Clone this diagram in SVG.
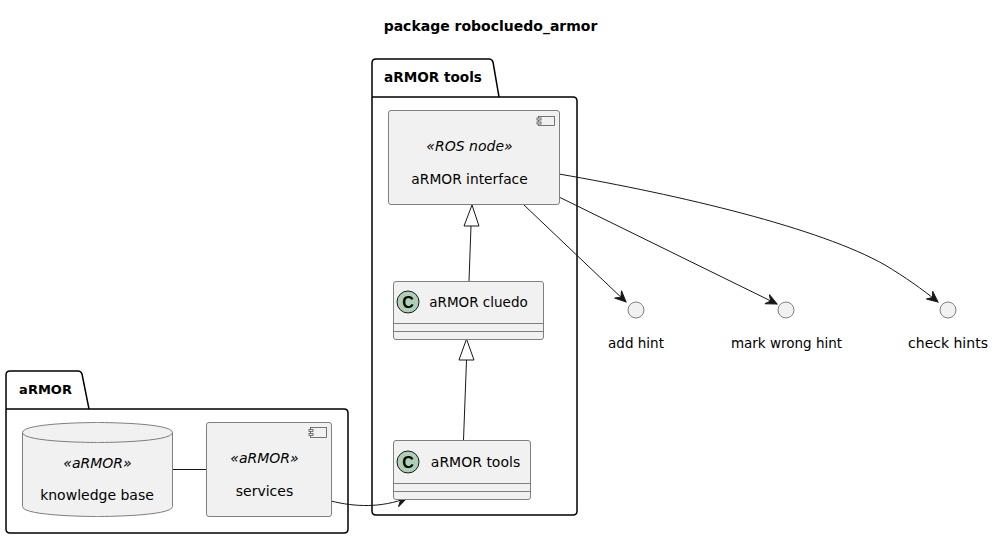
<svg xmlns="http://www.w3.org/2000/svg" width="994" height="539" viewBox="0 0 994 539">
<style>
text{font-family:"DejaVu Sans",sans-serif;font-size:14px;fill:#000;text-anchor:middle}
.b{font-weight:bold}
.i{font-style:italic}
.c{font-family:"Liberation Sans",sans-serif;font-weight:bold;font-size:16px}
.pkg{fill:none;stroke:#000;stroke-width:1.5}
.n{fill:#F1F1F1;stroke:#7f7f7f;stroke-width:1}
.ic{fill:#F1F1F1;stroke:#555;stroke-width:.8}
.l{fill:none;stroke:#181818;stroke-width:1}
.arr{fill:#181818;stroke:#181818;stroke-width:1}
.tri{fill:#fff;stroke:#181818;stroke-width:1}
.sp{fill:#ADD1B2;stroke:#181818;stroke-width:1}
</style>
<defs>
<marker id="a" markerUnits="userSpaceOnUse" markerWidth="14" markerHeight="12" refX="11" refY="5" orient="auto" viewBox="0 0 14 10" overflow="visible"><path d="M0,0L11,5L0,10L4,5Z" class="arr"/></marker>
</defs>
<text x="490.500" y="31" class="b">package robocluedo_armor</text>

<g id="pkg-tools">
<path class="pkg" d="M372,97V63Q372,59 376,59H489Q492,59 493,62L499,97H573Q577,97 577,101V511Q577,515 573,515H376Q372,515 372,511V97H499"/>
<text x="433" y="82" class="b" style="font-size:13.600px">aRMOR tools</text>
</g>
<g id="pkg-armor">
<path class="pkg" d="M6,409V375Q6,371 10,371H78Q81,371 82,374L89,409H344Q348,409 348,413V529Q348,533 344,533H10Q6,533 6,529V409H89"/>
<text x="45.500" y="394" class="b" style="font-size:13px">aRMOR</text>
</g>

<g id="connectors">
<path class="l" d="M471,226L469,281"/>
<path class="tri" d="M472,205L464,226H479Z"/>
<path class="l" d="M466.500,360L463.500,440"/>
<path class="tri" d="M466.500,339L459,360H474Z"/>
<path class="l" d="M172,469.500H206"/>
<path class="l" marker-end="url(#a)" d="M331,501C355,507 381,508 407,498"/>
<path class="l" marker-end="url(#a)" d="M524,205L626,302"/>
<path class="l" marker-end="url(#a)" d="M559,197L777,304"/>
<path class="l" marker-end="url(#a)" d="M559,174C680,195 820,228 885,265C905,277 922,289 938,302"/>
</g>

<g id="node-interface">
<rect class="n" x="388.500" y="110.500" width="171" height="94" rx="2.500"/>
<rect class="ic" x="538.500" y="116.500" width="16" height="9"/>
<rect class="ic" x="537" y="118" width="4" height="2"/>
<rect class="ic" x="537" y="122" width="4" height="2"/>
<text x="469.500" y="151" class="i">«ROS node»</text>
<text x="469.500" y="184" style="font-size:13.800px">aRMOR interface</text>
</g>

<g id="node-cluedo">
<rect class="n" x="393.500" y="281.500" width="150" height="58" rx="2.500"/>
<path class="n" d="M393.500,323.500H543.500M393.500,331.500H543.500"/>
<circle class="sp" cx="408" cy="302" r="11"/>
<text x="408" y="307.500" class="c">C</text>
<text x="478.500" y="307" style="font-size:13.500px">aRMOR cluedo</text>
</g>

<g id="node-tools">
<rect class="n" x="393.500" y="440.500" width="137" height="59" rx="2.500"/>
<path class="n" d="M393.500,483.500H530.500M393.500,491.500H530.500"/>
<circle class="sp" cx="408" cy="462" r="11"/>
<text x="408" y="467.500" class="c">C</text>
<text x="475.500" y="467">aRMOR tools</text>
</g>

<g id="node-kb">
<path class="n" d="M22.500,432.500C22.500,422.500 97.500,422.500 97.500,422.500S172.500,422.500 172.500,432.500V506.500C172.500,516.500 97.500,516.500 97.500,516.500S22.500,516.500 22.500,506.500Z"/>
<path class="n" style="fill:none" d="M22.500,432.500C22.500,442.500 97.500,442.500 97.500,442.500S172.500,442.500 172.500,432.500"/>
<text x="97.500" y="468" class="i">«aRMOR»</text>
<text x="97" y="500">knowledge base</text>
</g>

<g id="node-services">
<rect class="n" x="206.500" y="422.500" width="125" height="94" rx="2.500"/>
<rect class="ic" x="310.500" y="427.500" width="16" height="10"/>
<rect class="ic" x="309" y="429.500" width="4" height="2"/>
<rect class="ic" x="309" y="433.500" width="4" height="2"/>
<text x="264.500" y="463" class="i">«aRMOR»</text>
<text x="264.500" y="496">services</text>
</g>

<g id="node-add-hint">
<circle class="n" cx="636" cy="310" r="8"/>
<text x="636" y="348" style="font-size:13.500px">add hint</text>
</g>
<g id="node-mark-wrong">
<circle class="n" cx="786" cy="310" r="8"/>
<text x="786.500" y="348" style="font-size:13.500px">mark wrong hint</text>
</g>
<g id="node-check">
<circle class="n" cx="948" cy="310" r="8"/>
<text x="948" y="348">check hints</text>
</g>
</svg>
